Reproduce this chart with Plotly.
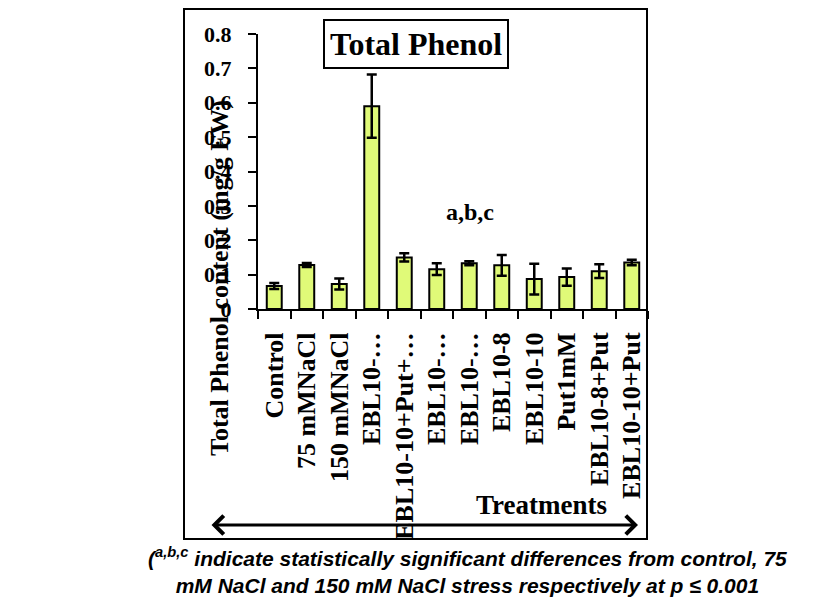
import plotly.graph_objects as go

treatments = ["Control", "75 mMNaCl", "150 mMNaCl", "EBL10-…", "EBL10-10+Put+…",
              "EBL10-…", "EBL10-…", "EBL10-8", "EBL10-10", "Put1mM",
              "EBL10-8+Put", "EBL10-10+Put"]
phenol = [0.067, 0.128, 0.073, 0.590, 0.150, 0.116, 0.133, 0.127, 0.087, 0.093, 0.110, 0.135]
phenol_err = [0.009, 0.006, 0.016, 0.092, 0.012, 0.017, 0.006, 0.030, 0.045, 0.025, 0.020, 0.008]
y_ticks = [0, 0.1, 0.2, 0.3, 0.4, 0.5, 0.6, 0.7, 0.8]

idx = list(range(len(treatments)))
bounds = [i - 0.5 for i in range(len(treatments) + 1)]

SERIF = "Liberation Serif, Times New Roman, serif"
SANS = "Liberation Sans, Arial, sans-serif"

fig = go.Figure()
fig.add_trace(go.Bar(
    x=idx, y=phenol, width=0.46,
    marker=dict(color="#e0fa78", line=dict(color="black", width=2)),
    error_y=dict(type="data", array=phenol_err, visible=True,
                 color="black", thickness=2.5, width=5),
))

# plot area in pixels: x 258..648, y 34..309
L, R, T, B = 258, 648, 34, 309
W, H = R - L, B - T
def px(xp):
    return (xp - L) / W
def py(yp):
    return (B - yp) / H

fig.update_layout(
    width=825, height=601,
    margin=dict(l=L, r=825 - R, t=T, b=601 - B),
    paper_bgcolor="white", plot_bgcolor="white",
    showlegend=False,
    bargap=0.5,
    xaxis=dict(
        range=[-0.5, len(treatments) - 0.5],
        tickmode="array", tickvals=idx, ticktext=treatments,
        tickangle=-90, ticks="", showgrid=False, zeroline=False,
        showline=True, linecolor="black", linewidth=2,
        tickfont=dict(family=SERIF, size=26, color="black", weight="bold"),
        ticklabelstandoff=11,
        minor=dict(tickmode="array", tickvals=bounds, ticks="outside",
                   ticklen=8, tickwidth=1.5, tickcolor="black", showgrid=False),
    ),
    yaxis=dict(
        range=[0, 0.8], tickmode="array", tickvals=y_ticks,
        ticks="outside", ticklen=8, tickwidth=2, tickcolor="black",
        showgrid=False, zeroline=False,
        showline=True, linecolor="black", linewidth=2,
        tickfont=dict(family=SERIF, size=22, color="black", weight="bold"),
        ticklabelstandoff=12,
    ),
)

# outer frame
fig.add_shape(type="rect", xref="paper", yref="paper",
              x0=px(184), x1=px(647), y0=py(539), y1=py(9),
              line=dict(color="black", width=2), layer="below")

# title box
fig.add_annotation(xref="paper", yref="paper", x=px(416), y=py(43.5),
                   xanchor="center", yanchor="middle",
                   text="Total Phenol", showarrow=False,
                   font=dict(family=SERIF, size=32, color="black", weight="bold"),
                   bordercolor="black", borderwidth=2, borderpad=5, bgcolor="white")

# significance letters
fig.add_annotation(xref="paper", yref="paper", x=px(470), y=py(212),
                   xanchor="center", yanchor="middle",
                   text="a,b,c", showarrow=False,
                   font=dict(family=SERIF, size=24, color="black", weight="bold"))

# y-axis title (overlapping tick labels as in the original)
fig.add_annotation(xref="paper", yref="paper", x=px(219), y=py(458),
                   yanchor="bottom", xanchor="center", textangle=-90,
                   text="Total Phenol content (mg/g FW)", showarrow=False,
                   font=dict(family=SERIF, size=26, color="black", weight="bold"))

# x-axis title
fig.add_annotation(xref="paper", yref="paper", x=px(541), y=py(505),
                   xanchor="center", yanchor="middle",
                   text="Treatments", showarrow=False, bgcolor="white",
                   font=dict(family=SERIF, size=27, color="black", weight="bold"))

# double arrow
fig.add_annotation(xref="paper", yref="paper", x=px(638), y=py(525),
                   axref="pixel", ayref="pixel", ax=-(638 - 210), ay=0,
                   text="", showarrow=True, arrowhead=4, startarrowhead=4,
                   arrowside="end+start", arrowsize=1.2, startarrowsize=1.2,
                   arrowwidth=3, arrowcolor="black")

# caption
fig.add_annotation(xref="paper", yref="paper", x=px(467), y=py(570),
                   xanchor="center", yanchor="middle",
                   text="(<sup>a,b,c</sup> indicate statistically significant differences from control, 75"
                        "<br>mM NaCl and 150 mM NaCl stress respectively at p ≤ 0.001",
                   showarrow=False, align="center",
                   font=dict(family=SANS, size=21, color="black", weight="bold", style="italic"))

fig.write_html("out.html", post_script="document.body.style.margin='0';",
               config={"displayModeBar": False})
